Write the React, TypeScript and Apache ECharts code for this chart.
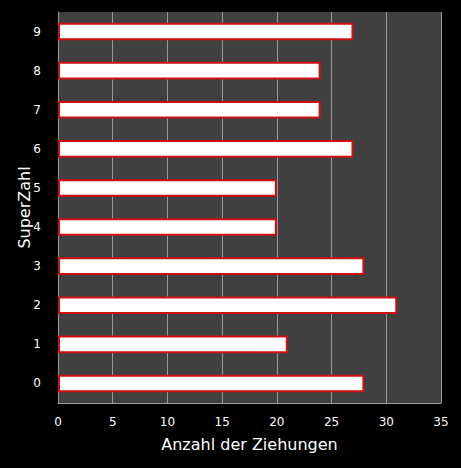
import { useEffect, useRef } from "react";
import * as echarts from "echarts";

const superZahlen = ["0", "1", "2", "3", "4", "5", "6", "7", "8", "9"];
const ziehungen = [28, 21, 31, 28, 20, 20, 27, 24, 24, 27];

export default function App() {
  const chartRef = useRef<HTMLDivElement>(null);

  useEffect(() => {
    if (!chartRef.current) return;
    document.body.style.margin = "0";
    const chart = echarts.init(chartRef.current, null, { renderer: "svg" });

    const option: any = {
      animation: false,
      backgroundColor: "#000000",
      textStyle: { fontFamily: "DejaVu Sans" },
      grid: {
        left: 58,
        right: 20,
        top: 12,
        bottom: 65,
        show: true,
        backgroundColor: "#404040",
        borderWidth: 0,
      },
      xAxis: {
        type: "value",
        min: 0,
        max: 35,
        interval: 5,
        name: "Anzahl der Ziehungen",
        nameLocation: "middle",
        nameGap: 33,
        nameMoveOverlap: false,
        nameTextStyle: { color: "#ffffff", fontSize: 16 },
        axisLine: { show: true, lineStyle: { color: "#9a9a9a", width: 1 } },
        axisTick: { show: false },
        axisLabel: { color: "#ffffff", fontSize: 12, margin: 13 },
        splitLine: { show: true, lineStyle: { color: "#9a9a9a", width: 1 } },
      },
      yAxis: {
        type: "category",
        data: superZahlen,
        name: "SuperZahl",
        nameLocation: "middle",
        nameGap: 26,
        nameMoveOverlap: false,
        nameTextStyle: { color: "#ffffff", fontSize: 16 },
        axisLine: { show: true, lineStyle: { color: "#9a9a9a", width: 1 } },
        axisTick: { show: false },
        axisLabel: { color: "#ffffff", fontSize: 12, margin: 17 },
        splitLine: { show: false },
      },
      series: [
        {
          type: "bar",
          data: ziehungen,
          barWidth: "45%",
          itemStyle: {
            color: "#ffffff",
            borderColor: "#d01010",
            borderWidth: 2,
          },
        },
      ],
    };

    chart.setOption(option);
    return () => chart.dispose();
  }, []);

  return <div ref={chartRef} style={{ width: 461, height: 468 }} />;
}
